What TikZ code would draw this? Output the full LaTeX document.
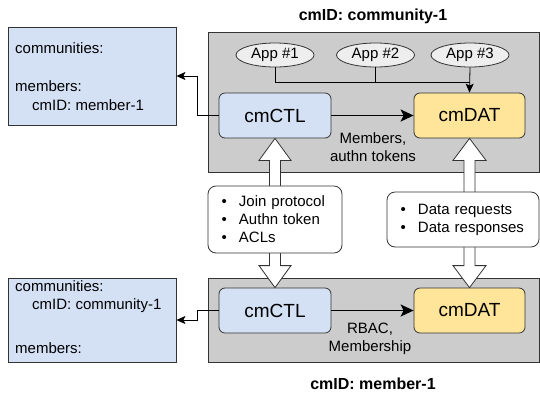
\documentclass[tikz,border=0pt]{standalone}
\usepackage{fontspec}
\setmainfont{Liberation Sans}
\usetikzlibrary{arrows.meta,calc,shapes.geometric}
\definecolor{boxblue}{HTML}{D4E1F5}
\definecolor{boxyellow}{HTML}{FFE599}
\definecolor{boxgray}{HTML}{CCCCCC}
\definecolor{appgray}{HTML}{EEEEEE}
\definecolor{edgecol}{HTML}{333333}
\tikzset{
  panel/.style={draw=edgecol, fill=boxgray, line width=0.8pt, inner sep=0pt, minimum width=331.5pt},
  infobox/.style={draw=edgecol, fill=boxblue, line width=0.8pt, inner sep=0pt, minimum width=168pt},
  comp/.style={draw=edgecol, rounded corners=6pt, line width=0.8pt, minimum width=112pt, minimum height=45pt, inner sep=0pt, font=\fontsize{19}{22}\selectfont},
  ctl/.style={comp, fill=boxblue},
  dat/.style={comp, fill=boxyellow},
  app/.style={ellipse, draw=edgecol, fill=appgray, line width=0.8pt, minimum width=78pt, minimum height=24pt, inner sep=0pt, font=\fontsize{15}{18}\selectfont},
  txt/.style={font=\fontsize{15}{18}\selectfont, inner sep=0pt},
  lbl/.style={txt, align=center},
  title/.style={font=\bfseries\fontsize{16}{19}\selectfont, inner sep=0pt},
  callout/.style={draw=edgecol, fill=white, rounded corners=8pt, line width=0.8pt, align=left, inner xsep=13.5pt, inner ysep=0pt, font=\fontsize{15}{18}\selectfont},
  conn/.style={draw=black, line width=0.8pt},
  connarrow/.style={conn, -{Stealth[length=9pt,width=8pt,inset=2pt]}},
  flow/.style={draw=black, line width=1.8pt, -{Stealth[length=13pt,width=12pt,inset=3pt]}},
  hollow/.style={draw=edgecol, fill=white, line width=0.8pt, line join=miter}
}
\newcommand{\bul}{\makebox[17.5pt][l]{\textbullet}}
\begin{document}
\begin{tikzpicture}[x=1pt,y=-1pt]
\useasboundingbox (0,0) rectangle (540,392);
% panels
\node[panel, minimum height=140pt] (grayA) at (373.75,102) {};
\node[panel, minimum height=84pt] (grayB) at (373.75,320) {};
\node[title] (titleA) at (373,16) {cmID: community-1};
\node[title] (titleB) at (373,384) {cmID: member-1};
% info boxes
\node[infobox, minimum height=98pt] (infoA) at (92,76) {};
\node[infobox, minimum height=84pt] (infoB) at (92,320) {};
\node[txt, anchor=base west] (iA1) at (15,53) {communities:};
\node[txt, anchor=base west] (iA2) at (15,91.5) {members:};
\node[txt, anchor=base west] (iA3) at (32,110) {cmID: member-1};
\node[txt, anchor=base west] (iB1) at (15,291.5) {communities:};
\node[txt, anchor=base west] (iB2) at (32,309) {cmID: community-1};
\node[txt, anchor=base west] (iB3) at (15,353) {members:};
% apps
\node[app] (app1) at (275,55) {App \#1};
\node[app] (app2) at (375.5,55) {App \#2};
\node[app] (app3) at (470,55) {App \#3};
% components
\node[ctl] (ctlA) at (275,115.5) {cmCTL};
\node[dat, minimum width=111pt] (datA) at (469.5,115.5) {cmDAT};
\node[ctl] (ctlB) at (275,310.5) {cmCTL};
\node[dat, minimum width=111pt] (datB) at (469.5,310.5) {cmDAT};
% app connectors
\coordinate (jn) at (470,82);
\draw[conn] (app1.south) |- (jn);
\draw[conn] (app2.south) -- (app2.south |- jn);
\draw[connarrow] (app3.south) -- (datA.north);
% flows
\draw[flow] (ctlA) -- (datA);
\draw[flow] (ctlB) -- (datB);
\node[lbl] (lblA) at (373,147) {Members,\\authn tokens};
\node[lbl] (lblB) at (370,339) {RBAC,\\Membership};
% to info boxes
\draw[connarrow] (ctlA.west) -- ++(-21,0) |- (infoA.east);
\draw[connarrow] (ctlB.west) -- ++(-21,0) |- (infoB.east);
% hollow double arrows
\draw[hollow] (ctlA.south) -- ++(16,22) -- ++(-10.5,0) -- ($(ctlB.north)+(5.5,-22)$) -- ++(10.5,0) -- (ctlB.north) -- ++(-16,-22) -- ++(10.5,0) -- ($(ctlA.south)+(-5.5,22)$) -- ++(-10.5,0) -- cycle;
\draw[hollow] (datA.south) -- ++(16.5,22) -- ++(-11,0) -- ($(datB.north)+(5.5,-22)$) -- ++(11,0) -- (datB.north) -- ++(-16.5,-22) -- ++(11,0) -- ($(datA.south)+(-5.5,22)$) -- ++(-11,0) -- cycle;
% callouts
\node[callout, text width=107pt, minimum height=67pt] (joinC) at (275,219.5) {\bul Join protocol\\\bul Authn token\\\bul ACLs};
\node[callout, text width=125pt, minimum height=55pt] (dataC) at (463,219.5) {\bul Data requests\\\bul Data responses};
\end{tikzpicture}
\end{document}
